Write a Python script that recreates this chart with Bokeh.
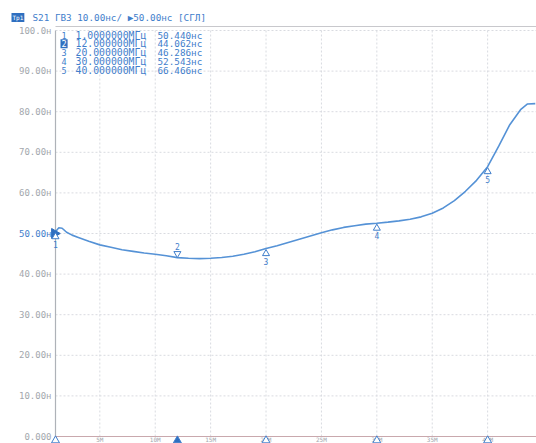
from bokeh.plotting import figure
from bokeh.models import Range1d, Label
from bokeh.core.properties import value
from bokeh.embed import file_html
from bokeh.resources import INLINE

# ---- data ----
freq_mhz = [1.0, 1.3, 1.6, 2.0, 2.5, 3, 4, 5, 6, 7, 8, 9, 10, 11, 12, 13, 14, 15, 16, 17,
            18, 19, 20, 21, 22, 23, 24, 25, 26, 27, 28, 29, 30, 31, 32, 33, 34, 35, 36, 37,
            38, 39, 40, 41, 42, 43, 43.6, 44.3]
delay_ns = [50.44, 51.4, 51.3, 50.3, 49.6, 49.1, 48.1, 47.2, 46.6, 46.0, 45.6, 45.2, 44.9,
            44.5, 44.06, 43.9, 43.8, 43.9, 44.1, 44.4, 44.9, 45.5, 46.29, 47.0, 47.8, 48.6,
            49.4, 50.2, 50.9, 51.5, 51.9, 52.3, 52.54, 52.8, 53.1, 53.5, 54.1, 55.0, 56.3,
            58.1, 60.4, 63.1, 66.47, 71.5, 76.8, 80.6, 81.9, 82.0]

marker_ids = ["1", "2", "3", "4", "5"]
marker_freq = [1.0, 12.0, 20.0, 30.0, 40.0]
marker_val = [50.440, 44.062, 46.286, 52.543, 66.466]
marker_freq_text = ["1.0000000МГц", "12.000000МГц", "20.000000МГц", "30.000000МГц", "40.000000МГц"]
marker_val_text = ["50.440нс", "44.062нс", "46.286нс", "52.543нс", "66.466нс"]
active_marker = "2"

y_ticks = [0, 10, 20, 30, 40, 50, 60, 70, 80, 90, 100]
y_tick_labels = ["0.000", "10.00н", "20.00н", "30.00н", "40.00н", "50.00н",
                 "60.00н", "70.00н", "80.00н", "90.00н", "100.0н"]
x_ticks = [5, 10, 15, 20, 25, 30, 35, 40]
x_tick_labels = ["5M", "10M", "15M", "20M", "25M", "30M", "35M", "40M"]

trace_tag = "Тр1"
header_text = "S21 ГВЗ 10.00нс/ ▶50.00нс [СГЛ]"
ref_level = 50

# ---- layout: the whole canvas is the data area; the instrument frame is drawn ----
W, H = 536, 443
FL, FR, FT, FB = 55, 536, 30, 436          # frame edges in pixels
X0, X1 = 1.0, 44.41                         # frequency span visible in the frame
Y0, Y1 = 0.0, 100.0
sx = (FR - FL) / (X1 - X0)
sy = (FB - FT) / (Y1 - Y0)


def fx(px):
    return X0 + (px - FL) / sx


def fy(py):
    return Y0 + (FB - py) / sy


BLUE = "#3f7ecb"
DARKBLUE = "#2f6fc0"
CURVE = "#5592d6"
GRAY = "#a3a7ad"
GRID = "#d9dbe0"
MONO = "DejaVu Sans Mono"

p = figure(width=W, height=H, output_backend="svg", toolbar_location=None,
           x_range=Range1d(fx(0), fx(W)), y_range=Range1d(fy(H), fy(0)),
           min_border=0)
p.xaxis.visible = False
p.yaxis.visible = False
p.grid.visible = False
p.outline_line_color = None
p.background_fill_color = "white"
p.border_fill_color = "white"

# grid
p.segment(x0=x_ticks, y0=[Y0] * len(x_ticks), x1=x_ticks, y1=[Y1] * len(x_ticks),
          line_color=GRID, line_dash="2 2", line_width=1)
p.segment(x0=[X0] * len(y_ticks), y0=y_ticks, x1=[X1] * len(y_ticks), y1=y_ticks,
          line_color=GRID, line_dash="2 2", line_width=1)
# frame
p.line([X0, X0], [Y0, Y1], line_color="#aeb2b8", line_width=1.2)
p.line([X0, X1], [Y0, Y0], line_color="#c9a8ad", line_width=1.2)
p.line([fx(FL), X1], [fy(26), fy(26)], line_color="#c8c8cc", line_width=1)

# y tick labels
p.text(x=[fx(FL - 4)] * len(y_ticks), y=y_ticks, text=y_tick_labels,
       text_align="right", text_baseline="middle", text_font=value(MONO),
       text_font_size="9px",
       text_color=[BLUE if t == ref_level else GRAY for t in y_ticks])

# x tick labels, squeezed into the strip under the frame
p.text(x=x_ticks, y=[fy(442)] * len(x_ticks), text=x_tick_labels,
       text_align="center", text_baseline="bottom", text_font=value(MONO),
       text_font_size="6px", text_color=GRAY)

# header
p.add_layout(Label(x=fx(11), y=fy(17), text=trace_tag, text_font=MONO,
                   text_font_size="6px", text_color="white", text_baseline="middle",
                   background_fill_color=DARKBLUE, padding=1))
p.add_layout(Label(x=fx(32), y=fy(17), text=header_text, text_font=MONO,
                   text_font_size="9.3px", text_color=BLUE, text_baseline="middle"))

# curve
p.line(freq_mhz, delay_ns, line_color=CURVE, line_width=1.6)

# reference level marker
p.scatter([fx(FL - 1)], [ref_level], marker="triangle", angle=-1.5708, size=10,
          fill_color=DARKBLUE, line_color=DARKBLUE)

# markers on the curve
for mid, f, v in zip(marker_ids, marker_freq, marker_val):
    if mid == active_marker:
        p.scatter([f], [v + 4 / sy], marker="inverted_triangle", size=7,
                  fill_color="white", line_color=BLUE, line_width=1)
        p.text([f], [v], text=[mid], y_offset=-8, text_align="center",
               text_baseline="bottom", text_font=value(MONO), text_font_size="8px",
               text_color=BLUE)
    else:
        p.scatter([f], [v - 5 / sy], marker="triangle", size=7,
                  fill_color="white", line_color=BLUE, line_width=1)
        p.text([f], [v], text=[mid], y_offset=9, text_align="center",
               text_baseline="top", text_font=value(MONO), text_font_size="8px",
               text_color=BLUE)

# stimulus markers on the bottom edge
p.scatter(marker_freq, [fy(FB + 4)] * len(marker_freq), marker="triangle", size=8,
          fill_color=[DARKBLUE if m == active_marker else "white" for m in marker_ids],
          line_color=BLUE)

# marker table
for i, (mid, ft, vt) in enumerate(zip(marker_ids, marker_freq_text, marker_val_text)):
    yy = fy(34.5 + i * 8.8)
    if mid == active_marker:
        p.add_layout(Label(x=fx(60), y=yy, text=mid, text_font=MONO,
                           text_font_size="8.5px", text_color="white",
                           text_baseline="middle", background_fill_color=DARKBLUE,
                           padding=1))
    else:
        p.add_layout(Label(x=fx(61), y=yy, text=mid, text_font=MONO,
                           text_font_size="8.5px", text_color=BLUE,
                           text_baseline="middle"))
    p.add_layout(Label(x=fx(75), y=yy, text=ft, text_font=MONO,
                       text_font_size="9.8px", text_color=BLUE, text_baseline="middle"))
    p.add_layout(Label(x=fx(157), y=yy, text=vt, text_font=MONO,
                       text_font_size="9.3px", text_color=BLUE, text_baseline="middle"))

open("out.html", "w").write(file_html(p, INLINE))
